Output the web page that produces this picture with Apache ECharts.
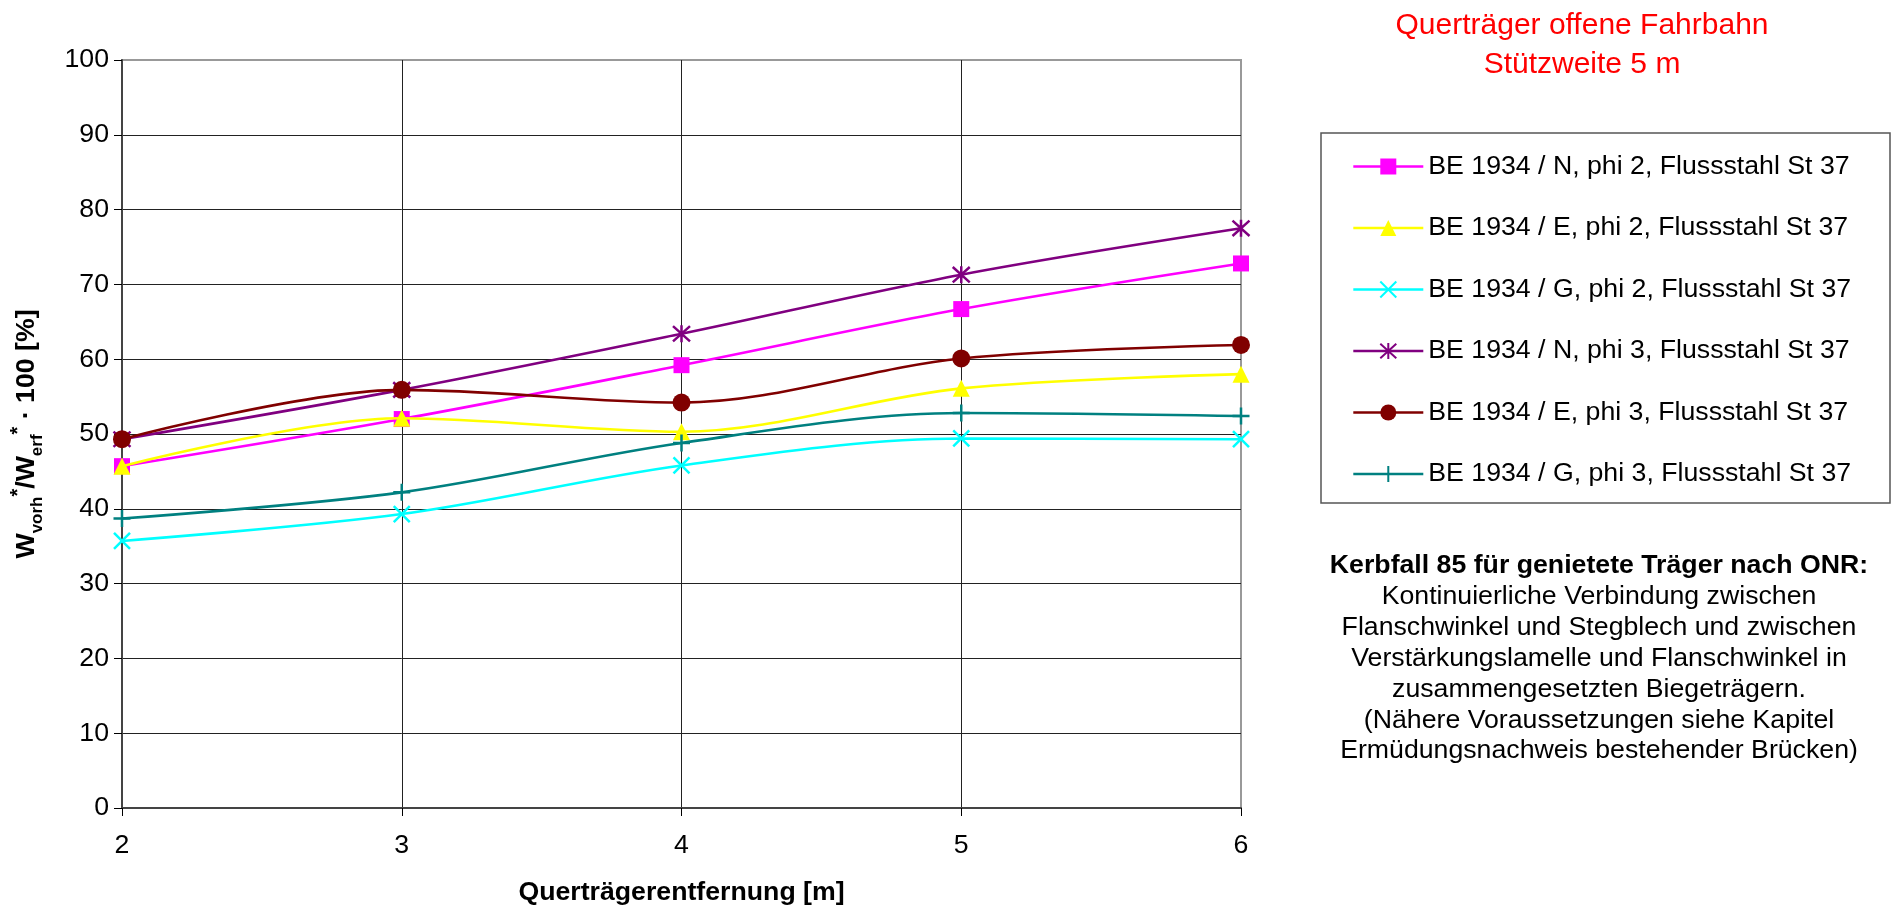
<!DOCTYPE html>
<html>
<head>
<meta charset="utf-8">
<script src="https://cdn.jsdelivr.net/npm/echarts@6/dist/echarts.min.js"></script>
<style>
html,body{margin:0;padding:0;background:#fff;}
#chart{width:1892px;height:906px;}
</style>
</head>
<body>
<div id="chart"></div>
<script>
// ---- data ----
const xValues = [2, 3, 4, 5, 6];
const seriesNames = [
  'BE 1934 / N, phi 2, Flussstahl St 37',
  'BE 1934 / E, phi 2, Flussstahl St 37',
  'BE 1934 / G, phi 2, Flussstahl St 37',
  'BE 1934 / N, phi 3, Flussstahl St 37',
  'BE 1934 / E, phi 3, Flussstahl St 37',
  'BE 1934 / G, phi 3, Flussstahl St 37'
];
const nPhi2 = [45.7, 52.0, 59.2, 66.7, 72.8];
const ePhi2 = [45.7, 52.1, 50.3, 56.1, 58.0];
const gPhi2 = [35.7, 39.3, 45.8, 49.4, 49.3];
const nPhi3 = [49.3, 55.9, 63.4, 71.3, 77.5];
const ePhi3 = [49.3, 55.9, 54.2, 60.1, 61.9];
const gPhi3 = [38.7, 42.2, 48.8, 52.8, 52.4];
const yTicks = [0, 10, 20, 30, 40, 50, 60, 70, 80, 90, 100];
const titleLines = ['Querträger offene Fahrbahn', 'Stützweite 5 m'];
const noteHead = 'Kerbfall 85 für genietete Träger nach ONR:';
const noteLines = [
  'Kontinuierliche Verbindung zwischen',
  'Flanschwinkel und Stegblech und zwischen',
  'Verstärkungslamelle und Flanschwinkel in',
  'zusammengesetzten Biegeträgern.',
  '(Nähere Voraussetzungen siehe Kapitel',
  'Ermüdungsnachweis bestehender Brücken)'
];
const xName = 'Querträgerentfernung [m]';

// ---- styling ----
const FONT = '"Liberation Sans", Arial, sans-serif';
const FS = 26.7;
const allValues = [nPhi2, ePhi2, gPhi2, nPhi3, ePhi3, gPhi3];
const colors = ['#FF00FF', '#FFFF00', '#00FFFF', '#800080', '#800000', '#008080'];
const symbols = [
  'rect',
  'triangle',
  'path://M0,0L20,20M20,0L0,20',
  'path://M10,0L10,20M1,1L19,19M19,1L1,19',
  'circle',
  'path://M10,0L10,20M0,10L20,10'
];
const symbolSizes = [16, 17, 16, 17, 18, 17];
const borderW = [0, 0, 2.5, 2.5, 0, 2.5];

const series = seriesNames.map((name, i) => ({
  name: name,
  type: 'line',
  data: xValues.map((x, j) => [x, allValues[i][j]]),
  smooth: 0.33,
  symbol: symbols[i],
  symbolSize: symbolSizes[i],
  showAllSymbol: true,
  lineStyle: { color: colors[i], width: 2.6 },
  itemStyle: { color: colors[i], borderColor: colors[i], borderWidth: borderW[i] },
  emphasis: { disabled: true },
  z: 2 + i
}));

const chart = echarts.init(document.getElementById('chart'), null, { renderer: 'canvas' });
chart.setOption({
  animation: false,
  backgroundColor: '#ffffff',
  textStyle: { fontFamily: FONT },
  grid: {
    left: 122, right: 651, top: 60, bottom: 98,
    outerBoundsMode: 'none', containLabel: false,
    show: true, borderColor: '#999999', borderWidth: 2, backgroundColor: 'transparent'
  },
  xAxis: {
    type: 'value', min: 2, max: 6, interval: 1,
    name: xName, nameLocation: 'middle', nameGap: 71,
    nameTextStyle: { fontFamily: FONT, fontSize: FS, fontWeight: 'bold', color: '#000' },
    axisLine: { show: true, onZero: false, lineStyle: { color: '#444', width: 2 } },
    axisTick: { show: true, length: 8, lineStyle: { color: '#000', width: 1 } },
    axisLabel: { fontFamily: FONT, fontSize: FS, color: '#000', margin: 24 },
    splitLine: { show: true, showMinLine: false, showMaxLine: false, lineStyle: { color: '#222', width: 1 } }
  },
  yAxis: {
    type: 'value', min: yTicks[0], max: yTicks[yTicks.length - 1], interval: 10,
    name: '{b|W}{s|vorh}{p|*}{b|/W}{s|erf}{p|*}{b| · 100 [%]}',
    nameLocation: 'middle', nameGap: 76, nameRotate: 90,
    nameTextStyle: {
      fontFamily: FONT, color: '#000',
      rich: {
        b: { fontFamily: FONT, fontSize: FS, fontWeight: 'bold', color: '#000', lineHeight: 38, verticalAlign: 'middle' },
        s: { fontFamily: FONT, fontSize: 17, fontWeight: 'bold', color: '#000', lineHeight: 17, verticalAlign: 'bottom' },
        p: { fontFamily: FONT, fontSize: 20, fontWeight: 'bold', color: '#000', lineHeight: 20, verticalAlign: 'top' }
      }
    },
    axisLine: { show: true, lineStyle: { color: '#444', width: 2 } },
    axisTick: { show: true, length: 8, lineStyle: { color: '#000', width: 1 } },
    axisLabel: { fontFamily: FONT, fontSize: FS, color: '#000', margin: 13 },
    splitLine: { show: true, showMinLine: false, showMaxLine: false, lineStyle: { color: '#222', width: 1 } }
  },
  legend: {
    orient: 'vertical',
    left: 1347, top: 148,
    itemWidth: 70, itemHeight: 20, itemGap: 34.5,
    lineStyle: { width: 2.6 },
    textStyle: { fontFamily: FONT, fontSize: FS, color: '#000', lineHeight: 26 },
    data: seriesNames,
    selectedMode: false
  },
  graphic: [
    {
      type: 'rect', silent: true, z: 0,
      shape: { x: 1321, y: 133, width: 569, height: 370 },
      style: { fill: '#fff', stroke: '#555', lineWidth: 1.5 }
    },
    {
      type: 'text', silent: true, x: 1582, y: 26,
      style: { text: titleLines[0], font: '30px ' + FONT, fill: '#FF0000', textAlign: 'center', textVerticalAlign: 'middle' }
    },
    {
      type: 'text', silent: true, x: 1582, y: 65,
      style: { text: titleLines[1], font: '30px ' + FONT, fill: '#FF0000', textAlign: 'center', textVerticalAlign: 'middle' }
    },
    {
      type: 'text', silent: true, x: 1599, y: 566,
      style: { text: noteHead, font: 'bold ' + FS + 'px ' + FONT, fill: '#000', textAlign: 'center', textVerticalAlign: 'middle' }
    }
  ].concat(noteLines.map((t, k) => ({
    type: 'text', silent: true, x: 1599, y: 597 + k * 30.8,
    style: { text: t, font: FS + 'px ' + FONT, fill: '#000', textAlign: 'center', textVerticalAlign: 'middle' }
  }))),
  series: series
});
</script>
</body>
</html>
